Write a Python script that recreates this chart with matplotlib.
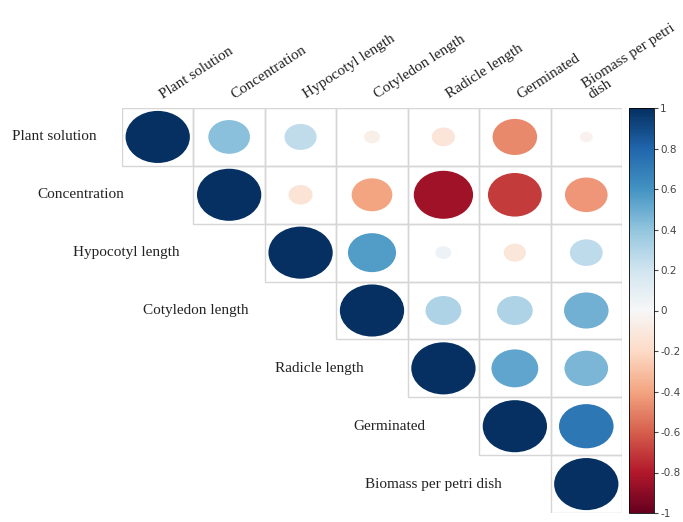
"""Correlograma (corrplot) de las variables de germinación."""

import numpy as np
import matplotlib.pyplot as plt
from matplotlib.patches import Ellipse, Rectangle
from matplotlib.colors import Normalize

variables = ["Plant solution", "Concentration", "Hypocotyl length",
             "Cotyledon length", "Radicle length", "Germinated",
             "Biomass per petri dish"]
col_labels = ["Plant solution", "Concentration", "Hypocotyl length",
              "Cotyledon length", "Radicle length", "Germinated",
              "Biomass per petri\ndish"]

# upper triangle, fila a fila (desde la diagonal)
r_plant = [1.0, 0.42, 0.25, -0.06, -0.13, -0.48, -0.04]
r_conc = [1.0, -0.14, -0.40, -0.85, -0.70, -0.44]
r_hypo = [1.0, 0.56, 0.06, -0.12, 0.26]
r_coty = [1.0, 0.31, 0.31, 0.48]
r_radi = [1.0, 0.53, 0.46]
r_germ = [1.0, 0.72]
r_biom = [1.0]
rows = [r_plant, r_conc, r_hypo, r_coty, r_radi, r_germ, r_biom]

# posición (px) del borde izquierdo de las etiquetas de fila
row_label_x = [12, 37, 73, 143, 275, 353, 365]

W, H = 683, 522
fig = plt.figure(figsize=(W / 100, H / 100), dpi=100)
gx0, gx1, gy0, gy1 = 122, 622, 108, 513
ax = fig.add_axes([gx0 / W, 1 - gy1 / H, (gx1 - gx0) / W, (gy1 - gy0) / H])
n = len(variables)
ax.set_xlim(-0.5, n - 0.5)
ax.set_ylim(n - 0.5, -0.5)
ax.axis("off")

cmap = plt.get_cmap("RdBu")
norm = Normalize(-1, 1)

for i, row in enumerate(rows):
    for k, r in enumerate(row):
        j = i + k
        ax.add_patch(Rectangle((j - 0.5, i - 0.5), 1, 1, facecolor="none",
                               edgecolor="#d6d6d6", lw=1.0))
        s = 0.9 * np.sqrt(abs(r))
        ax.add_patch(Ellipse((j, i), s, s, facecolor=cmap(norm(r)),
                             edgecolor="none"))

serif = "Liberation Serif"
for i, name in enumerate(variables):
    xd = (row_label_x[i] - gx0) / (gx1 - gx0) * n - 0.5
    ax.text(xd, i, name, ha="left", va="center", fontsize=11,
            family=serif, color="#222222", clip_on=False)

for j, name in enumerate(col_labels):
    ax.text(j + 0.1, -0.62, name, ha="left", va="bottom", rotation=33,
            rotation_mode="anchor", fontsize=11, family=serif,
            color="#222222", clip_on=False, linespacing=0.95)

cax = fig.add_axes([629 / W, 1 - gy1 / H, 25 / W, (gy1 - gy0) / H])
sm = plt.cm.ScalarMappable(norm=norm, cmap=cmap)
cb = fig.colorbar(sm, cax=cax, ticks=np.arange(-1, 1.01, 0.2))
cb.ax.set_yticklabels(["-1", "-0.8", "-0.6", "-0.4", "-0.2", "0", "0.2",
                       "0.4", "0.6", "0.8", "1"])
cb.ax.tick_params(labelsize=7.5, length=3, pad=1.5, colors="#444444")
cb.outline.set_linewidth(0.6)

fig.savefig("out.png", dpi=100)
plt.close(fig)
